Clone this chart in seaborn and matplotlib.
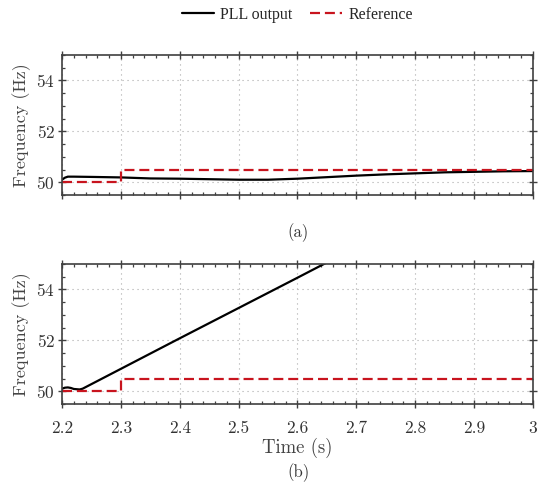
import matplotlib
matplotlib.use("Agg")
import matplotlib.pyplot as plt
import seaborn as sns
import pandas as pd
from matplotlib.ticker import MultipleLocator

# panel (a): PLL output follows the reference step
t_a = [2.20, 2.205, 2.21, 2.22, 2.25, 2.30, 2.35, 2.40, 2.45, 2.50, 2.55, 2.60, 2.65, 2.70, 2.75, 2.80, 2.85, 2.90, 2.95, 3.00]
f_a = [50.10, 50.18, 50.22, 50.22, 50.21, 50.19, 50.15, 50.14, 50.12, 50.10, 50.10, 50.14, 50.20, 50.26, 50.31, 50.35, 50.39, 50.41, 50.43, 50.44]

# panel (b): PLL output runs away
t_b = [2.20, 2.205, 2.21, 2.215, 2.22, 2.23, 2.235, 2.30, 2.40, 2.50, 2.60, 2.645, 2.70]
f_b = [50.10, 50.14, 50.15, 50.13, 50.09, 50.07, 50.10, 50.88, 52.08, 53.27, 54.46, 55.00, 55.66]

# reference frequency
ref_t = [2.2, 2.3, 3.0]
ref_f = [50.0, 50.5, 50.5]

sns.set_style("ticks")
plt.rcParams["font.family"] = ["cmr10", "DejaVu Serif"]
plt.rcParams["axes.formatter.use_mathtext"] = True
plt.rcParams["mathtext.fontset"] = "cm"

spine_col = "#404040"
red = "#c8141e"

fig = plt.figure(figsize=(5.5, 4.83), dpi=100)
ax_a = fig.add_axes([0.1127, 0.5963, 0.8564, 0.2899])
ax_b = fig.add_axes([0.1127, 0.1636, 0.8564, 0.2899])

panels = [(ax_a, t_a, f_a), (ax_b, t_b, f_b)]
for ax, t, f in panels:
    df_pll = pd.DataFrame({"t": t, "f": f})
    df_ref = pd.DataFrame({"t": ref_t, "f": ref_f})
    sns.lineplot(data=df_pll, x="t", y="f", ax=ax, color="black", lw=1.6,
                 estimator=None, label="PLL output", legend=False)
    sns.lineplot(data=df_ref, x="t", y="f", ax=ax, color=red, lw=1.6,
                 linestyle=(0, (4.5, 2.2)), drawstyle="steps-post",
                 estimator=None, label="Reference", legend=False)
    ax.set_xlim(2.2, 3.0)
    ax.set_ylim(49.5, 55)
    ax.xaxis.set_major_locator(MultipleLocator(0.1))
    ax.xaxis.set_minor_locator(MultipleLocator(0.02))
    ax.yaxis.set_major_locator(MultipleLocator(2))
    ax.yaxis.set_minor_locator(MultipleLocator(0.5))
    ax.grid(True, which="major", linestyle=(0, (1, 3.5)), color="#aaaaaa", lw=0.8)
    ax.tick_params(which="major", direction="inout", length=6, width=1.0,
                   color=spine_col, top=True, right=True, labelsize=12.5,
                   labelcolor="#333333", pad=2)
    ax.tick_params(axis="x", which="major", pad=9)
    ax.tick_params(which="minor", direction="in", length=2.5, width=0.9,
                   color=spine_col, top=True, right=True)
    for s in ax.spines.values():
        s.set_color(spine_col)
        s.set_linewidth(1.2)
    ax.set_ylabel("Frequency (Hz)", fontsize=13, color="#444444", labelpad=4)
    ax.set_xlabel("")

ax_a.tick_params(labelbottom=False)
ax_b.set_xticks([2.2, 2.3, 2.4, 2.5, 2.6, 2.7, 2.8, 2.9, 3.0])
ax_b.set_xticklabels(["2.2", "2.3", "2.4", "2.5", "2.6", "2.7", "2.8", "2.9", "3"])
ax_b.set_xlabel("Time (s)", fontsize=13.5, color="#444444", labelpad=1)

fig.text(0.542, 1 - 233 / 483, "(a)", ha="center", va="center", fontsize=12, color="#333333")
fig.text(0.542, 1 - 473 / 483, "(b)", ha="center", va="center", fontsize=12, color="#333333")

handles, labels = ax_a.get_legend_handles_labels()
fig.legend(handles, labels, loc="center", bbox_to_anchor=(0.541, 1 - 15 / 483),
           ncol=2, frameon=False, prop={"family": "Liberation Serif", "size": 11.5},
           handlelength=2.0, handletextpad=0.4, columnspacing=1.1)

fig.savefig("out.png", dpi=100)
